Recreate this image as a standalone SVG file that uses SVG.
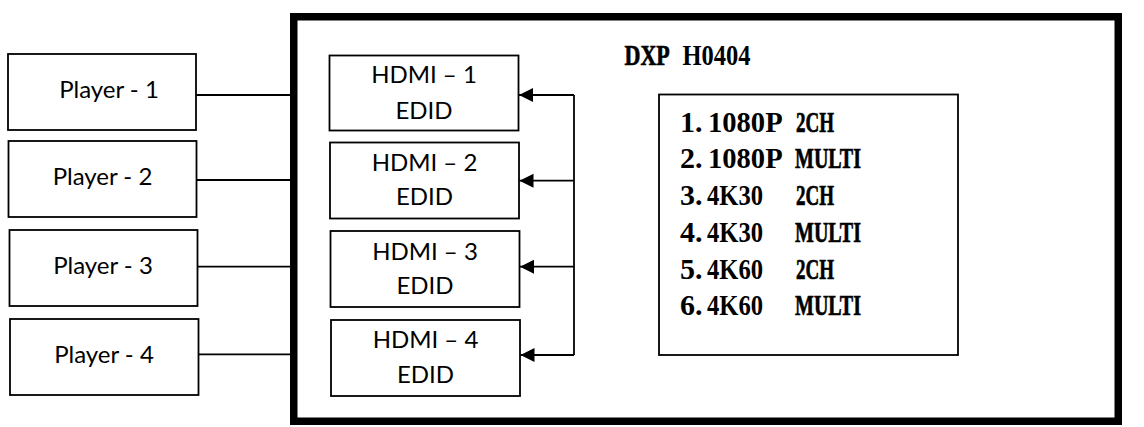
<svg xmlns="http://www.w3.org/2000/svg" width="1144" height="427" viewBox="0 0 1144 427">
<style>
.box{fill:#fff;stroke:#000;stroke-width:1.8}
.frame{fill:#fff;stroke:#000;stroke-width:7.5}
.lbl{font-family:Lato,"Liberation Sans",sans-serif;font-size:24px;fill:#000;text-anchor:middle}
.mono{font-family:"Liberation Serif",serif;font-weight:bold;font-size:30px;fill:#000}
.w{stroke:#000;stroke-width:0.7}
.ln{fill:none;stroke:#000;stroke-width:1.8}
</style>
<defs>
<marker id="ah" markerUnits="userSpaceOnUse" markerWidth="16" markerHeight="16" refX="14" refY="7" orient="auto">
<path d="M0,0 L14,7 L0,14 Z" fill="#000"/>
</marker>
</defs>
<rect width="1144" height="427" fill="#fff"/>
<g id="dxp">
<rect class="frame" x="293.75" y="16.75" width="824.5" height="404.5"/>
<text class="mono" y="64.5"><tspan class="w" x="624.5" textLength="44" lengthAdjust="spacingAndGlyphs">DXP</tspan> <tspan x="682.5" textLength="68" lengthAdjust="spacingAndGlyphs">H0404</tspan></text>
</g>
<g id="edid-list">
<rect class="box" x="659" y="94.5" width="299" height="260.5"/>
<text class="mono" y="131.7" xml:space="preserve"><tspan x="680">1.</tspan><tspan x="708" textLength="73" lengthAdjust="spacingAndGlyphs">1080P</tspan> <tspan class="w" x="796" textLength="38" lengthAdjust="spacingAndGlyphs">2CH</tspan></text>
<text class="mono" y="168.4" xml:space="preserve"><tspan x="680">2.</tspan><tspan x="708" textLength="73" lengthAdjust="spacingAndGlyphs">1080P</tspan> <tspan class="w" x="795" textLength="66" lengthAdjust="spacingAndGlyphs">MULTI</tspan></text>
<text class="mono" y="205.1" xml:space="preserve"><tspan x="680">3.</tspan><tspan x="707" textLength="56" lengthAdjust="spacingAndGlyphs">4K30</tspan>  <tspan class="w" x="796" textLength="38" lengthAdjust="spacingAndGlyphs">2CH</tspan></text>
<text class="mono" y="241.8" xml:space="preserve"><tspan x="680">4.</tspan><tspan x="707" textLength="56" lengthAdjust="spacingAndGlyphs">4K30</tspan>  <tspan class="w" x="795" textLength="66" lengthAdjust="spacingAndGlyphs">MULTI</tspan></text>
<text class="mono" y="278.5" xml:space="preserve"><tspan x="680">5.</tspan><tspan x="707" textLength="56" lengthAdjust="spacingAndGlyphs">4K60</tspan>  <tspan class="w" x="796" textLength="38" lengthAdjust="spacingAndGlyphs">2CH</tspan></text>
<text class="mono" y="315.2" xml:space="preserve"><tspan x="680">6.</tspan><tspan x="707" textLength="56" lengthAdjust="spacingAndGlyphs">4K60</tspan>  <tspan class="w" x="795" textLength="66" lengthAdjust="spacingAndGlyphs">MULTI</tspan></text>
</g>
<g id="player-1"><rect class="box" x="8" y="54" width="188" height="76"/><text class="lbl" x="109" y="98.3">Player - 1</text></g>
<g id="player-2"><rect class="box" x="8.5" y="141" width="188" height="76"/><text class="lbl" x="102.5" y="185">Player - 2</text></g>
<g id="player-3"><rect class="box" x="9.5" y="230" width="188" height="76"/><text class="lbl" x="103" y="274">Player - 3</text></g>
<g id="player-4"><rect class="box" x="10" y="319" width="188.5" height="76"/><text class="lbl" x="104" y="362.7">Player - 4</text></g>
<g id="hdmi-1"><rect class="box" x="329.5" y="55.5" width="189" height="75"/><text class="lbl" x="424" y="83.3">HDMI – 1</text><text class="lbl" x="424" y="119">EDID</text></g>
<g id="hdmi-2"><rect class="box" x="330" y="142.5" width="189" height="76"/><text class="lbl" x="424.5" y="170.7">HDMI – 2</text><text class="lbl" x="424.5" y="205">EDID</text></g>
<g id="hdmi-3"><rect class="box" x="330.5" y="231" width="189" height="76"/><text class="lbl" x="425" y="260">HDMI – 3</text><text class="lbl" x="425" y="294.3">EDID</text></g>
<g id="hdmi-4"><rect class="box" x="331" y="320" width="189" height="76"/><text class="lbl" x="425.5" y="348.3">HDMI – 4</text><text class="lbl" x="425.5" y="383.3">EDID</text></g>
<g id="connectors">
<line class="ln" x1="196" y1="95" x2="290" y2="95"/>
<line class="ln" x1="196.5" y1="180" x2="290" y2="180"/>
<line class="ln" x1="197.5" y1="266.7" x2="290" y2="266.7"/>
<line class="ln" x1="198.5" y1="354.3" x2="290" y2="354.3"/>
<polyline class="ln" points="574,95 574,355"/>
<line class="ln" x1="574" y1="95" x2="519" y2="95" marker-end="url(#ah)"/>
<line class="ln" x1="574" y1="180.7" x2="519.5" y2="180.7" marker-end="url(#ah)"/>
<line class="ln" x1="574" y1="266.7" x2="520" y2="266.7" marker-end="url(#ah)"/>
<line class="ln" x1="574" y1="355" x2="520.5" y2="355" marker-end="url(#ah)"/>
</g>
</svg>
